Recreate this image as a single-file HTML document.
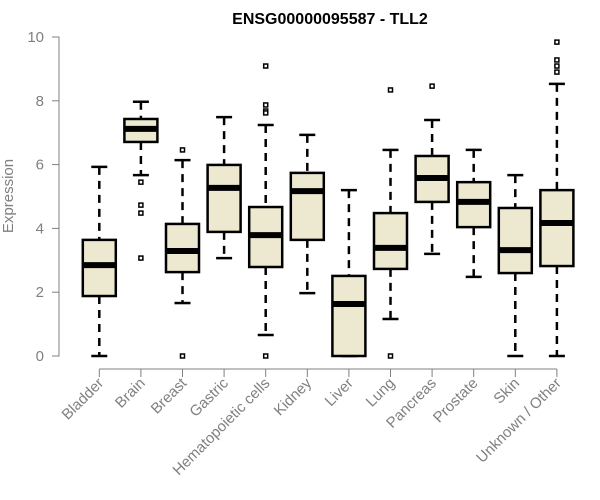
<!DOCTYPE html>
<html><head><meta charset="utf-8"><style>
html,body{margin:0;padding:0;background:#fff;width:600px;height:500px;overflow:hidden}
svg{font-family:"Liberation Sans",sans-serif}
</style></head><body>
<svg id="chart" width="600" height="500"></svg>
<script>
const categories=["Bladder","Brain","Breast","Gastric","Hematopoietic cells","Kidney","Liver","Lung","Pancreas","Prostate","Skin","Unknown / Other"];
const lowWhisker=[0,5.67,1.66,3.07,0.66,1.97,0,1.16,3.2,2.48,0,0];
const q1=[1.88,6.71,2.63,3.89,2.79,3.64,0,2.73,4.83,4.04,2.6,2.82];
const median=[2.85,7.12,3.29,5.27,3.79,5.17,1.63,3.39,5.58,4.83,3.32,4.17];
const q3=[3.64,7.43,4.14,5.99,4.67,5.74,2.51,4.48,6.27,5.45,4.64,5.2];
const highWhisker=[5.93,7.97,6.14,7.49,7.24,6.93,5.2,6.46,7.4,6.46,5.67,8.53];
const outliers=[[],[5.45,4.73,4.48,3.07],[6.46,0],[],[9.09,7.87,7.68,7.62,0],[],[],[8.34,0],[8.46],[],[],[9.84,9.28,9.09,8.9]];
const yTicks=[0,2,4,6,8,10];
const NS="http://www.w3.org/2000/svg";
const svg=document.getElementById("chart");
const y=v=>356-v*31.9;
const x=i=>99.3+i*41.6;
function mk(t,a,p){const e=document.createElementNS(NS,t);for(const k in a)e.setAttribute(k,a[k]);(p||svg).appendChild(e);return e;}
const title=mk("text",{x:330,y:24,"text-anchor":"middle","font-size":"16","font-weight":"bold",fill:"#000"});


title.textContent="ENSG00000095587 - TLL2";
const yl=mk("text",{x:13,y:196,"text-anchor":"middle","font-size":"15",fill:"#808080",transform:"rotate(-90 13 196)"});


yl.textContent="Expression";
const ya=mk("path",{d:`M52 ${y(0)}H59V${y(10)}H52`,stroke:"#808080",fill:"none"});


yTicks.forEach(t=>{
 const l=mk("line",{x1:52,x2:59,y1:y(t),y2:y(t),stroke:"#808080"});
 
 
 const tx=mk("text",{x:44,y:y(t)+5,"text-anchor":"end","font-size":"15",fill:"#808080"});
 
 
 tx.textContent=t;
});
const xa=mk("line",{x1:x(0),x2:x(categories.length-1),y1:369,y2:369,stroke:"#808080"});


categories.forEach((c,i)=>{
 const cx=x(i);
 const tk=mk("line",{x1:cx,x2:cx,y1:369,y2:377,stroke:"#808080"});
 
 
 const lb=mk("text",{x:cx+5,y:384,"text-anchor":"end","font-size":"15",fill:"#808080",transform:`rotate(-45 ${cx+5} 384)`});
 
 
 lb.textContent=c;
 const g=mk("g",{});
 
 
 mk("line",{x1:cx,x2:cx,y1:y(highWhisker[i]),y2:y(q3[i]),stroke:"#000","stroke-width":2.5,"stroke-dasharray":"8,6"},g);
 mk("line",{x1:cx,x2:cx,y1:y(q1[i]),y2:y(lowWhisker[i]),stroke:"#000","stroke-width":2.5,"stroke-dasharray":"8,6"},g);
 mk("line",{x1:cx-8,x2:cx+8,y1:y(highWhisker[i]),y2:y(highWhisker[i]),stroke:"#000","stroke-width":2.5},g);
 mk("line",{x1:cx-8,x2:cx+8,y1:y(lowWhisker[i]),y2:y(lowWhisker[i]),stroke:"#000","stroke-width":2.5},g);
 mk("rect",{x:cx-16.5,y:y(q3[i]),width:33,height:Math.max(0,y(q1[i])-y(q3[i])),fill:"#ede8d0",stroke:"#000","stroke-width":2.5},g);
 mk("line",{x1:cx-16.5,x2:cx+16.5,y1:y(median[i]),y2:y(median[i]),stroke:"#000","stroke-width":6},g);
 outliers[i].forEach(o=>{
  const r=mk("rect",{x:cx-2,y:y(o)-2,width:4,height:4,fill:"#fff",stroke:"#000","stroke-width":1.5},g);
  
  
 });
});
</script>
</body></html>
